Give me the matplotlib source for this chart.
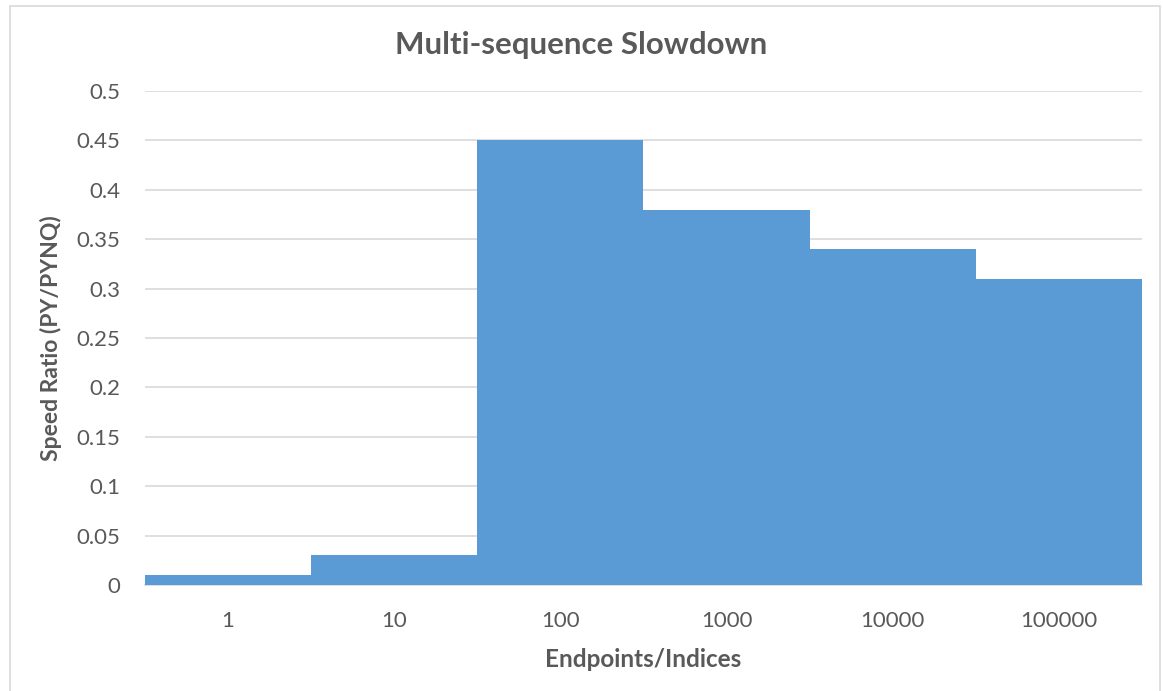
import matplotlib.pyplot as plt
from matplotlib.patches import Rectangle

categories = ['1', '10', '100', '1000', '10000', '100000']
ratios = [0.01, 0.03, 0.45, 0.38, 0.34, 0.31]
yticks = [0, 0.05, 0.1, 0.15, 0.2, 0.25, 0.3, 0.35, 0.4, 0.45, 0.5]
ytick_labels = ['0', '0.05', '0.1', '0.15', '0.2', '0.25', '0.3', '0.35', '0.4', '0.45', '0.5']

plt.rcParams['font.family'] = ['Lato', 'DejaVu Sans']

fig = plt.figure(figsize=(11.63, 6.91), dpi=100)
ax = fig.add_axes([0.1247, 0.1534, 0.8572, 0.7149])

# outer chart border like excel
fig.patches.append(Rectangle((0.0086, -0.01), 0.9888, 1.001, transform=fig.transFigure,
                             fill=False, edgecolor='#d9d9d9', linewidth=1.2))

x = range(len(categories))
ax.bar(x, ratios, width=1.0, color='#5b9bd5', zorder=3)

ax.set_xlim(-0.5, len(categories) - 0.5)
ax.set_ylim(0, 0.5)
ax.set_yticks(yticks)
ax.set_yticklabels(ytick_labels)
ax.set_xticks(list(x))
ax.set_xticklabels(categories)
ax.grid(axis='y', color='#d9d9d9', linewidth=1.2, zorder=0)
for s in ['top', 'right', 'left']:
    ax.spines[s].set_visible(False)
ax.spines['bottom'].set_color('#d9d9d9')
ax.spines['bottom'].set_linewidth(1.2)
ax.tick_params(axis='both', length=0, labelsize=16, labelcolor='#595959')
ax.tick_params(axis='y', pad=18)
ax.tick_params(axis='x', pad=19)

fig.text(0.5, 1 - 45 / 691, 'Multi-sequence Slowdown', fontsize=22.5, fontweight='bold',
         color='#595959', ha='center', va='center')
ax.set_xlabel('Endpoints/Indices', fontsize=17.5, fontweight='bold', color='#595959', labelpad=12)
ax.set_ylabel('Speed Ratio (PY/PYNQ)', fontsize=16.5, fontweight='bold', color='#595959', labelpad=10)

plt.savefig('out.png', dpi=100)
